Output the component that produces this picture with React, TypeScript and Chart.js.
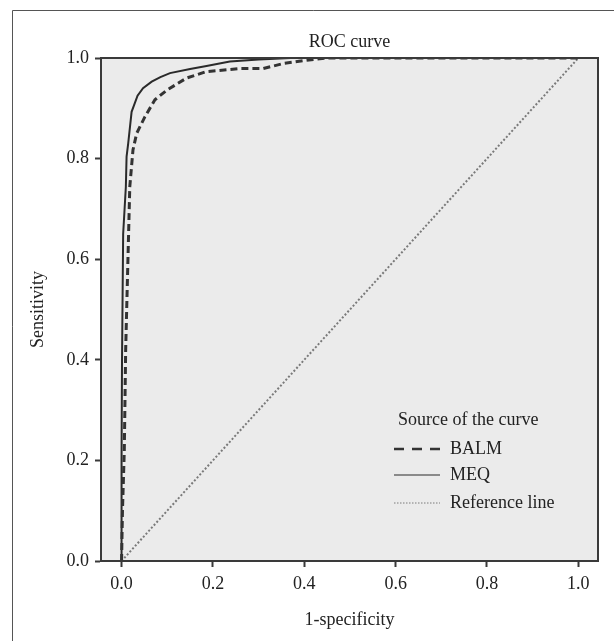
import React, { useEffect, useRef } from "react";
import { Chart, registerables } from "chart.js";

Chart.register(...registerables);

const chartTitle = "ROC curve";
const xAxisTitle = "1-specificity";
const yAxisTitle = "Sensitivity";
const legendTitle = "Source of the curve";
const tickValues = [0, 0.2, 0.4, 0.6, 0.8, 1.0];

const balmX = [0, 0.002, 0.006, 0.009, 0.0145, 0.018, 0.025, 0.033, 0.051, 0.073, 0.099, 0.142, 0.186, 0.259, 0.31, 0.354, 0.4, 0.45, 1.0];
const balmY = [0, 0.1, 0.22, 0.42, 0.618, 0.744, 0.817, 0.85, 0.883, 0.917, 0.936, 0.96, 0.973, 0.979, 0.979, 0.989, 0.995, 1.0, 1.0];

const meqX = [0, 0, 0.001, 0.0035, 0.0094, 0.011, 0.0145, 0.022, 0.035, 0.047, 0.066, 0.085, 0.106, 0.15, 0.186, 0.237, 0.3, 0.37, 1.0];
const meqY = [0, 0.2, 0.4, 0.65, 0.744, 0.804, 0.83, 0.893, 0.925, 0.94, 0.953, 0.962, 0.97, 0.978, 0.984, 0.993, 0.997, 1.0, 1.0];

const refX = [0, 1];
const refY = [0, 1];

const seriesNames = ["BALM", "MEQ", "Reference line"];

const FONT = '"Liberation Serif", "Times New Roman", serif';
const FS = 18;

const toPoints = (xs: number[], ys: number[]) => xs.map((x, i) => ({ x, y: ys[i] }));

const backgroundPlugin = {
  id: "bgFrame",
  beforeDraw(chart: any) {
    const { ctx, chartArea } = chart;
    ctx.save();
    ctx.fillStyle = "#ffffff";
    ctx.fillRect(0, 0, chart.width, chart.height);
    ctx.strokeStyle = "#555";
    ctx.lineWidth = 1;
    ctx.beginPath();
    ctx.moveTo(12.5, chart.height + 2);
    ctx.lineTo(12.5, 10.5);
    ctx.lineTo(chart.width + 2, 10.5);
    ctx.stroke();
    ctx.fillStyle = "#ebebeb";
    ctx.fillRect(chartArea.left, chartArea.top, chartArea.right - chartArea.left, chartArea.bottom - chartArea.top);
    ctx.restore();
  },
  afterDraw(chart: any) {
    const { ctx, chartArea } = chart;
    ctx.save();
    ctx.strokeStyle = "#3a3a3a";
    ctx.lineWidth = 2;
    ctx.strokeRect(chartArea.left, chartArea.top, chartArea.right - chartArea.left, chartArea.bottom - chartArea.top);
    ctx.font = `${FS}px ${FONT}`;
    ctx.fillStyle = "#222";
    ctx.textAlign = "center";
    ctx.textBaseline = "middle";
    ctx.fillText(chartTitle, (chartArea.left + chartArea.right) / 2, chartArea.top - 16);
    ctx.restore();
  },
};

const legendPlugin = {
  id: "customLegend",
  afterDraw(chart: any) {
    const { ctx, chartArea } = chart;
    const x0 = chartArea.left + 293;
    const y0 = chartArea.top + 362;
    ctx.save();
    ctx.font = `${FS}px ${FONT}`;
    ctx.fillStyle = "#222";
    ctx.textBaseline = "middle";
    ctx.textAlign = "left";
    ctx.fillText(legendTitle, x0 + 4, y0);
    const rows = [29, 55, 83];
    chart.data.datasets.forEach((ds: any, i: number) => {
      const y = y0 + rows[i];
      ctx.save();
      ctx.strokeStyle = ds.borderColor;
      ctx.lineWidth = i === 0 ? 2.5 : i === 1 ? 1.2 : 1;
      ctx.setLineDash(i === 0 ? [10, 8] : i === 2 ? [1.5, 1.5] : []);
      ctx.beginPath();
      ctx.moveTo(x0, y);
      ctx.lineTo(x0 + 46, y);
      ctx.stroke();
      ctx.restore();
      ctx.fillText(seriesNames[i], x0 + 56, y);
    });
    ctx.restore();
  },
};

export default function App() {
  const canvasRef = useRef<HTMLCanvasElement | null>(null);

  useEffect(() => {
    if (!canvasRef.current) return;
    const chart = new Chart(canvasRef.current, {
      type: "scatter",
      data: {
        datasets: [
          {
            label: seriesNames[0],
            data: toPoints(balmX, balmY),
            showLine: true,
            borderColor: "#333",
            borderWidth: 3,
            borderDash: [7, 4],
            pointRadius: 0,
            tension: 0,
          },
          {
            label: seriesNames[1],
            data: toPoints(meqX, meqY),
            showLine: true,
            borderColor: "#2a2a2a",
            borderWidth: 2,
            pointRadius: 0,
            tension: 0,
          },
          {
            label: seriesNames[2],
            data: toPoints(refX, refY),
            showLine: true,
            borderColor: "#7a7a7a",
            borderWidth: 2,
            borderDash: [2, 2],
            pointRadius: 0,
            tension: 0,
          },
        ],
      },
      options: {
        responsive: false,
        animation: false,
        devicePixelRatio: 1,
        layout: { padding: { left: 0, right: 16, top: 58, bottom: 0 } },
        plugins: {
          legend: { display: false },
          tooltip: { enabled: false },
          title: { display: false },
        },
        scales: {
          x: {
            type: "linear",
            min: -0.045,
            max: 1.043,
            afterBuildTicks: (scale: any) => {
              scale.ticks = tickValues.map((v) => ({ value: v }));
            },
            afterFit: (scale: any) => {
              scale.height = 80;
            },
            ticks: {
              color: "#222",
              font: { family: FONT, size: FS },
              padding: 6,
              callback: (v: any) => Number(v).toFixed(1),
              maxRotation: 0,
            },
            grid: {
              drawOnChartArea: false,
              drawTicks: true,
              tickLength: 6,
              tickColor: "#3a3a3a",
              tickWidth: 2,
            },
            border: { display: true, color: "#3a3a3a", width: 2 },
            title: {
              display: true,
              text: xAxisTitle,
              color: "#222",
              font: { family: FONT, size: FS },
              padding: { top: 0, bottom: 10 },
            },
          },
          y: {
            type: "linear",
            min: 0,
            max: 1,
            afterBuildTicks: (scale: any) => {
              scale.ticks = tickValues.map((v) => ({ value: v }));
            },
            afterFit: (scale: any) => {
              scale.width = 101;
            },
            ticks: {
              color: "#222",
              font: { family: FONT, size: FS },
              padding: 6,
              callback: (v: any) => Number(v).toFixed(1),
            },
            grid: {
              drawOnChartArea: false,
              drawTicks: true,
              tickLength: 6,
              tickColor: "#3a3a3a",
              tickWidth: 2,
            },
            border: { display: true, color: "#3a3a3a", width: 2 },
            title: {
              display: true,
              text: yAxisTitle,
              color: "#222",
              font: { family: FONT, size: FS },
              padding: { top: 27, bottom: 0 },
            },
          },
        },
      },
      plugins: [backgroundPlugin, legendPlugin],
    } as any);
    return () => chart.destroy();
  }, []);

  return (
    <div style={{ position: "absolute", left: 0, top: 0, width: 614, height: 641 }}>
      <canvas ref={canvasRef} width={614} height={641} style={{ width: 614, height: 641, display: "block" }} />
    </div>
  );
}
